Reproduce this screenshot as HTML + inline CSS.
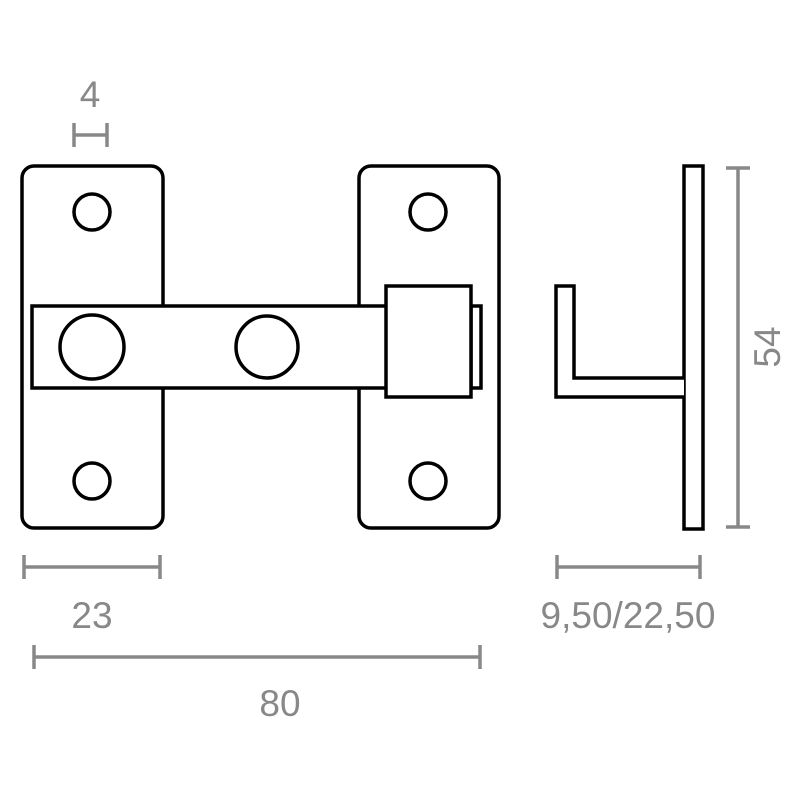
<!DOCTYPE html>
<html><head><style>body{margin:0;background:#fff}</style></head><body>
<svg width="800" height="800" viewBox="0 0 800 800" xmlns="http://www.w3.org/2000/svg">
<g fill="none" stroke="#000" stroke-width="3.5">
<rect x="22" y="166" width="141" height="362" rx="12"/>
<rect x="359" y="166" width="140" height="362" rx="12"/>
</g>
<g fill="#fff" stroke="#000" stroke-width="3.5">
<circle cx="92" cy="212" r="18"/><circle cx="92" cy="481" r="18"/>
<circle cx="428" cy="212" r="18"/><circle cx="428" cy="481" r="18"/>
<rect x="32" y="306" width="355" height="82"/>
<circle cx="92" cy="347" r="32"/><circle cx="267" cy="347" r="31"/>
<rect x="471" y="306" width="10" height="82"/>
<rect x="386" y="286" width="85" height="111"/>
<rect x="684" y="166" width="19" height="363"/>
<path d="M684 378 H574 V286 H556 V397 H684"/>
</g>
<g stroke="#888" stroke-width="3.5" fill="none">
<path d="M74 135 H107 M74 123 V147 M107 123 V147"/>
<path d="M24 567 H160 M24 555 V579 M160 555 V579"/>
<path d="M557 567 H700 M557 555 V579 M700 555 V579"/>
<path d="M34 657 H480 M34 645 V669 M480 645 V669"/>
<path d="M738 168 V527 M726 168 H750 M726 527 H750"/>
</g>
<g fill="#888" font-family="Liberation Sans, sans-serif" font-size="37" text-anchor="middle">
<text x="90" y="107">4</text>
<text x="92" y="628">23</text>
<text x="628" y="628">9,50/22,50</text>
<text x="280" y="716">80</text>
<text transform="translate(780,347) rotate(-90)">54</text>
</g>
</svg>
</body></html>
